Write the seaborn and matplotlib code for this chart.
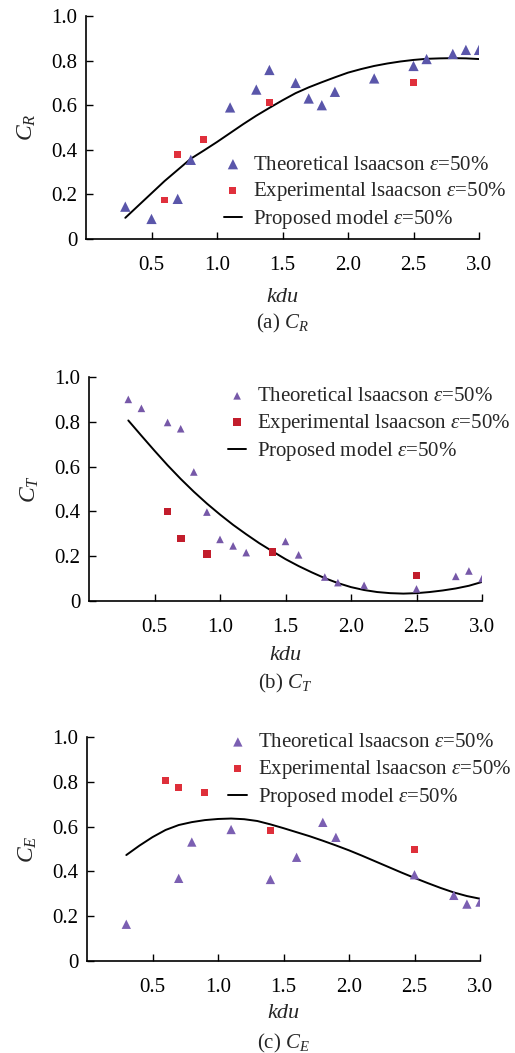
import numpy as np
import pandas as pd
import matplotlib
matplotlib.use("Agg")
import matplotlib.pyplot as plt
import seaborn as sns

sns.set_theme(style="white")
plt.rcParams['font.family'] = ['Liberation Serif', 'DejaVu Serif']
plt.rcParams['mathtext.fontset'] = 'custom'
plt.rcParams['mathtext.rm'] = 'Liberation Serif'
plt.rcParams['mathtext.it'] = 'Liberation Serif:italic'

# ---------------- data ----------------
# (a) C_R
a_theo_x = [0.3, 0.5, 0.7, 0.8, 1.1, 1.3, 1.4, 1.6, 1.7, 1.8, 1.9, 2.2, 2.5, 2.6, 2.8, 2.9, 3.0]
a_theo_y = [0.145, 0.09, 0.18, 0.355, 0.59, 0.67, 0.758, 0.70, 0.63, 0.60, 0.66, 0.72, 0.776, 0.807, 0.83, 0.848, 0.848]
a_exp_x = [0.6, 0.7, 0.9, 1.4, 2.5]
a_exp_y = [0.175, 0.379, 0.448, 0.613, 0.703]
a_mod_y = [0.095, 0.15, 0.205, 0.26, 0.31, 0.36, 0.397, 0.435, 0.475, 0.515, 0.553, 0.588,
           0.622, 0.654, 0.68, 0.703, 0.725, 0.746, 0.762, 0.776, 0.787, 0.796, 0.803,
           0.808, 0.81, 0.811, 0.81, 0.807]

# (b) C_T
b_theo_x = [0.3, 0.4, 0.6, 0.7, 0.8, 0.9, 1.0, 1.1, 1.2, 1.5, 1.6, 1.8, 1.9, 2.1, 2.5, 2.8, 2.9, 3.0]
b_theo_y = [0.90, 0.86, 0.797, 0.769, 0.576, 0.397, 0.275, 0.246, 0.216, 0.266, 0.206, 0.107,
            0.082, 0.070, 0.054, 0.11, 0.134, 0.10]
b_exp_x = [0.6, 0.7, 0.9, 1.4, 2.5]
b_exp_y = [0.40, 0.279, 0.21, 0.219, 0.113]
b_mod_y = [0.806, 0.738, 0.671, 0.606, 0.545, 0.488, 0.435, 0.386, 0.34, 0.298, 0.258, 0.222,
           0.187, 0.156, 0.128, 0.102, 0.08, 0.062, 0.049, 0.04, 0.035, 0.033, 0.035,
           0.04, 0.047, 0.056, 0.068, 0.085]

# (c) C_E
c_theo_x = [0.3, 0.7, 0.8, 1.1, 1.4, 1.6, 1.8, 1.9, 2.5, 2.8, 2.9, 3.0]
c_theo_y = [0.164, 0.369, 0.531, 0.587, 0.364, 0.463, 0.619, 0.552, 0.385, 0.293, 0.254, 0.263]
c_exp_x = [0.6, 0.7, 0.9, 1.4, 2.5]
c_exp_y = [0.806, 0.775, 0.751, 0.582, 0.499]
c_mod_y = [0.473, 0.515, 0.553, 0.585, 0.607, 0.62, 0.629, 0.634, 0.636, 0.633, 0.625, 0.61,
           0.593, 0.575, 0.557, 0.537, 0.516, 0.494, 0.47, 0.445, 0.42, 0.395, 0.371,
           0.348, 0.326, 0.306, 0.29, 0.278]

mod_x = [0.3, 0.4, 0.5, 0.6, 0.7, 0.8, 0.9, 1.0, 1.1, 1.2, 1.3, 1.4, 1.5, 1.6, 1.7, 1.8,
         1.9, 2.0, 2.1, 2.2, 2.3, 2.4, 2.5, 2.6, 2.7, 2.8, 2.9, 3.0]

x_ticks = [0.5, 1.0, 1.5, 2.0, 2.5, 3.0]
x_tick_labels = ["0.5", "1.0", "1.5", "2.0", "2.5", "3.0"]
y_ticks = [0, 0.2, 0.4, 0.6, 0.8, 1.0]
y_tick_labels = ["0", "0.2", "0.4", "0.6", "0.8", "1.0"]

lab_theo = "Theoretical lsaacson $\\varepsilon$=50%"
lab_exp = "Experimental lsaacson $\\varepsilon$=50%"
lab_mod = "Proposed model $\\varepsilon$=50%"

W, H = 515, 1053
fig = plt.figure(figsize=(W / 100, H / 100), dpi=100)
fig.patch.set_facecolor("white")

panels = [
    dict(box=(86, 16, 479, 239), tx=a_theo_x, ty=a_theo_y, ex=a_exp_x, ey=a_exp_y, my=a_mod_y,
         tcol="#5a56aa", ecol="#e0303c", ts=55, es=25, ylab="$C_R$", cap="(a) $C_R$",
         leg=(0.35, 0.205), kdu_y=297, cap_y=323),
    dict(box=(89, 377, 482, 601), tx=b_theo_x, ty=b_theo_y, ex=b_exp_x, ey=b_exp_y, my=b_mod_y,
         tcol="#7658a8", ecol="#c21d2c", ts=30, es=30, ylab="$C_T$", cap="(b) $C_T$",
         leg=(0.353, 0.786), kdu_y=655, cap_y=683),
    dict(box=(87, 737, 480, 961), tx=c_theo_x, ty=c_theo_y, ex=c_exp_x, ey=c_exp_y, my=c_mod_y,
         tcol="#7b5fb2", ecol="#de2f3a", ts=45, es=26, ylab="$C_E$", cap="(c) $C_E$",
         leg=(0.36, 0.848), kdu_y=1013, cap_y=1043),
]

for p in panels:
    l, t, r, b = p["box"]
    ax = fig.add_axes([l / W, 1 - b / H, (r - l) / W, (b - t) / H])
    ax.set_facecolor("white")
    sns.scatterplot(x=p["tx"], y=p["ty"], ax=ax, marker="^", s=p["ts"], color=p["tcol"],
                    edgecolor="none", label=lab_theo, zorder=3)
    sns.scatterplot(x=p["ex"], y=p["ey"], ax=ax, marker="s", s=p["es"], color=p["ecol"],
                    edgecolor="none", label=lab_exp, zorder=3)
    sns.lineplot(x=mod_x, y=p["my"], ax=ax, color="black", linewidth=1.4, label=lab_mod,
                 zorder=2)
    ax.set_xlim(0, 3.0)
    ax.set_ylim(0, 1.0)
    ax.set_xticks(x_ticks)
    ax.set_xticklabels(x_tick_labels)
    ax.set_yticks(y_ticks)
    ax.set_yticklabels(y_tick_labels)
    ax.tick_params(direction="in", length=5, width=1, colors="black", labelsize=15,
                   pad=6, bottom=True, left=True)
    ax.tick_params(axis="x", pad=12)
    for side in ["top", "right"]:
        ax.spines[side].set_visible(False)
    for side in ["left", "bottom"]:
        ax.spines[side].set_color("black")
        ax.spines[side].set_linewidth(1.2)
    ax.set_ylabel(p["ylab"], fontsize=17, labelpad=10)
    ax.set_xlabel("")
    leg = ax.legend(loc="center left", bbox_to_anchor=p["leg"], frameon=False, fontsize=15,
                    handlelength=0.9, handletextpad=0.5, labelspacing=0.26, borderpad=0,
                    borderaxespad=0, markerscale=1.0)
    fig.text((l + r) / 2 / W, 1 - p["kdu_y"] / H, "kdu", ha="center", va="center",
             fontsize=16, style="italic")
    fig.text((l + r) / 2 / W, 1 - p["cap_y"] / H, p["cap"], ha="center", va="center",
             fontsize=15)

fig.savefig("out.png", dpi=100, facecolor="white")
